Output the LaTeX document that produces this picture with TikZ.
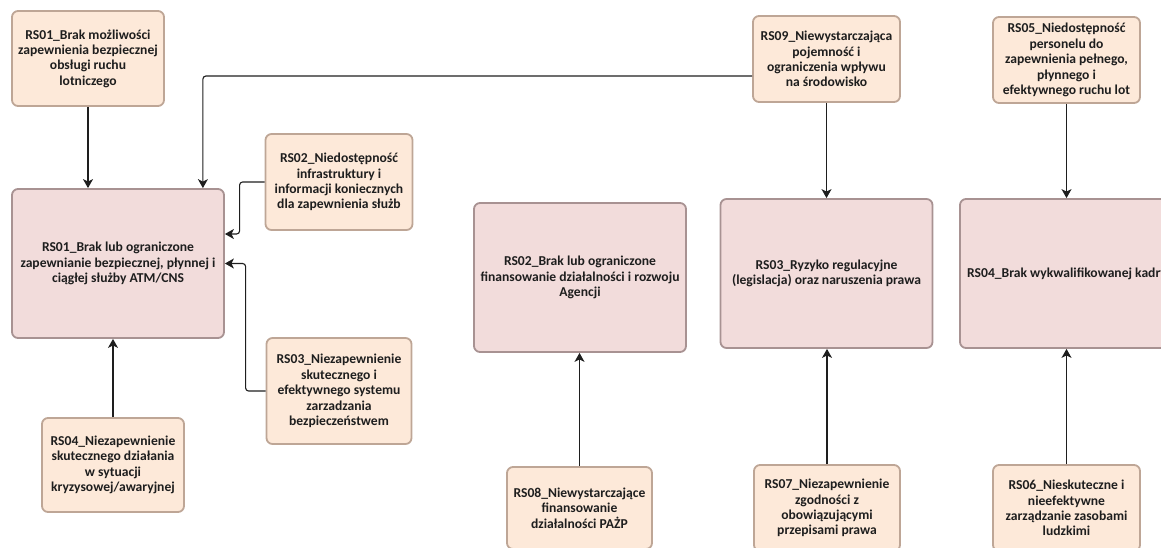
\documentclass[tikz,border=0pt]{standalone}
\usepackage{fontspec}
\setmainfont{Carlito}
\usetikzlibrary{arrows.meta}
\definecolor{peach}{RGB}{253,233,217}
\definecolor{peachline}{RGB}{190,166,150}
\definecolor{rose}{RGB}{242,220,219}
\definecolor{roseline}{RGB}{168,146,146}
\definecolor{ink}{RGB}{30,30,30}
\newcommand{\lbl}{\fontsize{13.6}{15.4}\selectfont\bfseries}

\begin{document}
\begin{tikzpicture}[x=1pt,y=-1pt,
    cause/.style={draw=peachline,fill=peach,line width=1.8pt,rounded corners=6pt,
      align=center,inner sep=0pt,text=ink,font=\lbl},
    risk/.style={draw=roseline,fill=rose,line width=1.8pt,rounded corners=6pt,
      align=center,inner sep=0pt,text=ink,font=\lbl,minimum width=212pt,minimum height=149pt},
    link/.style={draw=ink,line width=1.1pt,rounded corners=3pt,-{Stealth[length=9pt,width=10pt,inset=2.5pt]}}]
   \useasboundingbox (0,0) rectangle (1161,547);
   \clip (0,0) rectangle (1161,547);
   \node[risk] (R01) at (118,263.5) {RS01\_Brak lub ograniczone\\zapewnianie bezpiecznej, płynnej i\\ciągłej służby ATM/CNS};
   \node[risk] (R02) at (580,277.5) {RS02\_Brak lub ograniczone\\finansowanie działalności i rozwoju\\Agencji};
   \node[risk] (R03) at (826.5,273.5) {RS03\_Ryzyko regulacyjne\\(legislacja) oraz naruszenia prawa};
   \node[risk,minimum width=214pt] (R04) at (1067,273.5) {RS04\_Brak wykwalifikowanej kadry};
   \node[cause,minimum width=152pt,minimum height=95pt] (s01) at (88,58.5) {RS01\_Brak możliwości\\zapewnienia bezpiecznej\\obsługi ruchu\\lotniczego};
   \node[cause,minimum width=147pt,minimum height=96pt] (s02) at (339,182) {RS02\_Niedostępność\\infrastruktury i\\informacji koniecznych\\dla zapewnienia służb};
   \node[cause,minimum width=145pt,minimum height=106pt] (s03) at (339,391) {RS03\_Niezapewnienie\\skutecznego i\\efektywnego systemu\\zarzadzania\\bezpieczeństwem};
   \node[cause,minimum width=142pt,minimum height=94pt] (s04) at (113,465) {RS04\_Niezapewnienie\\skutecznego działania\\w sytuacji\\kryzysowej/awaryjnej};
   \node[cause,minimum width=147pt,minimum height=86pt] (s09) at (826.5,59) {RS09\_Niewystarczająca\\pojemność i\\ograniczenia wpływu\\na środowisko};
   \node[cause,minimum width=147pt,minimum height=86pt] (s05) at (1066.5,60) {RS05\_Niedostępność\\personelu do\\zapewnienia pełnego,\\płynnego i\\efektywnego ruchu lot};
   \node[cause,minimum width=145pt,minimum height=82pt] (s08) at (579.5,508) {RS08\_Niewystarczające\\finansowanie\\działalności PAŻP};
   \node[cause,minimum width=146pt,minimum height=86pt] (s07) at (827,508) {RS07\_Niezapewnienie\\zgodności z\\obowiązującymi\\przepisami prawa};
   \node[cause,minimum width=147pt,minimum height=86pt] (s06) at (1066.5,508) {RS06\_Nieskuteczne i\\nieefektywne\\zarządzanie zasobami\\ludzkimi};
   \coordinate (k09) at ([yshift=-17pt]s09.west);
   \coordinate (t09) at ([xshift=-22pt]R01.north east);
   \draw[link] (s01) -- (s01 |- R01.north);
   \draw[link] (k09) -| (t09);
   \draw[link] (s02.west) -- ++(-25,0) |- ([yshift=29.5pt]R01.east);
   \draw[link] (s03.west) -- ++(-20,0) |- (R01.east);
   \draw[link] (s04) -- (s04 |- R01.south);
   \draw[link] (s08) -- (s08 |- R02.south);
   \draw[link] (s09) -- (s09 |- R03.north);
   \draw[link] (s07) -- (s07 |- R03.south);
   \draw[link] (s05) -- (s05 |- R04.north);
   \draw[link] (s06) -- (s06 |- R04.south);
\end{tikzpicture}
\end{document}
